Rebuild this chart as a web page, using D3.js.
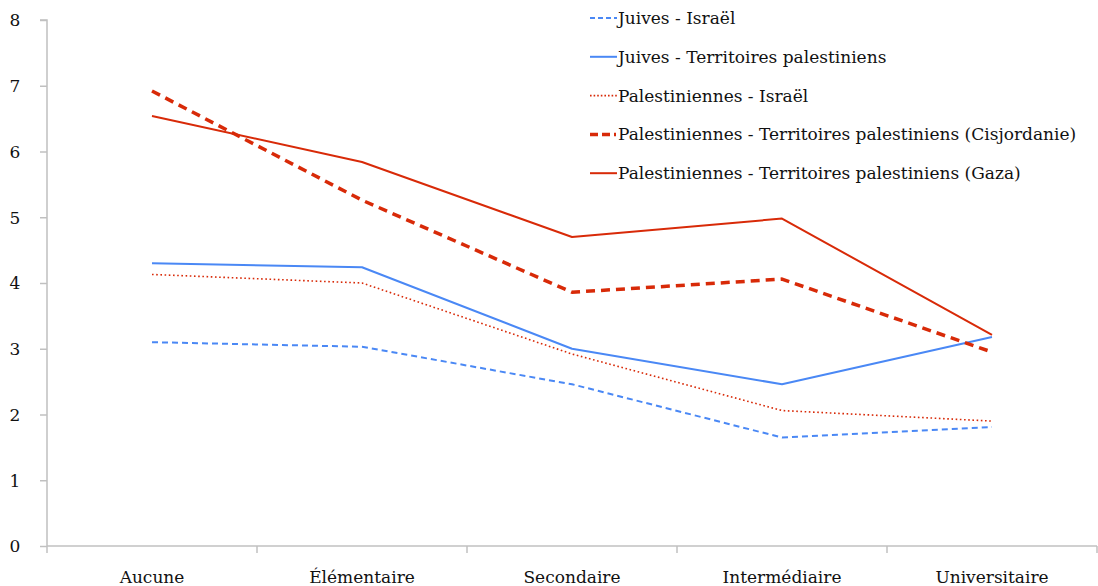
<!DOCTYPE html>
<html><head><meta charset="utf-8">
<script src="https://cdn.jsdelivr.net/npm/d3@7"></script>
<style>body{margin:0;background:#fff}svg{display:block}</style>
</head><body><svg id="c" width="1098" height="586"></svg>
<script>
const categories = ["Aucune","Élémentaire","Secondaire","Intermédiaire","Universitaire"];
const yTicks = [0,1,2,3,4,5,6,7,8];
const seriesNames = ["Juives - Israël","Juives - Territoires palestiniens","Palestiniennes - Israël","Palestiniennes - Territoires palestiniens (Cisjordanie)","Palestiniennes - Territoires palestiniens (Gaza)"];
const juivesIsrael = [3.10,3.03,2.46,1.65,1.81];
const juivesTerritoires = [4.30,4.24,3.00,2.46,3.18];
const palIsrael = [4.13,4.00,2.92,2.06,1.90];
const palCisjordanie = [6.92,5.26,3.86,4.06,2.95];
const palGaza = [6.54,5.84,4.70,4.98,3.21];

const FONT = '"DejaVu Serif", serif';
const blue = "#4a88f5", red = "#d82a08";
const styles = [
  {color:blue, width:2, dash:"6,4"},
  {color:blue, width:2, dash:null},
  {color:red, width:1.6, dash:"1.6,2.6"},
  {color:red, width:3.5, dash:"9,6"},
  {color:red, width:2, dash:null}
];
const data = [juivesIsrael,juivesTerritoires,palIsrael,palCisjordanie,palGaza];

const svg = d3.select("#c");
const mLeft = 47, mRight = 1097, mTop = 20, mBottom = 546;
const x = d3.scaleBand().domain(categories).range([mLeft,mRight]);
const y = d3.scaleLinear().domain([0,8]).range([mBottom,mTop]);

// y axis
const ya = svg.append("g").attr("transform",`translate(${mLeft},0)`).call(d3.axisLeft(y).tickValues(yTicks).tickSize(7).tickPadding(16));
ya.attr("font-family",FONT);
ya.select(".domain").attr("stroke","#c0c0c0").attr("stroke-width",1.5).attr("d",`M-7,${mTop}H0V${mBottom}`);
ya.selectAll(".tick line").attr("stroke","#c0c0c0").attr("stroke-width",1.5);
ya.selectAll(".tick text").attr("font-size",17).attr("text-anchor","middle").attr("x",-32).attr("dy","0.35em").attr("fill","#111");

// x axis
const xa = svg.append("g").attr("transform",`translate(0,${mBottom})`).call(d3.axisBottom(x).tickSize(0).tickPadding(25));
xa.attr("font-family",FONT);
xa.select(".domain").attr("stroke","#c0c0c0").attr("stroke-width",1.5).attr("d",`M${mLeft},0H${mRight}`);
xa.selectAll(".tick text").attr("font-size",17).attr("fill","#111");
const bounds = categories.map(c=>x(c)).concat([x(categories[categories.length-1])+x.bandwidth()]);
svg.append("g").selectAll("line").data(bounds).join("line")
  .attr("x1",d=>d).attr("x2",d=>d).attr("y1",mBottom).attr("y2",mBottom+7)
  .attr("stroke","#c0c0c0").attr("stroke-width",1.5);

// lines
const line = d3.line().x((d,i)=>x(categories[i])+x.bandwidth()/2).y(d=>y(d));
svg.append("g").selectAll("path").data(data).join("path")
  .attr("d",line).attr("fill","none")
  .attr("stroke",(d,i)=>styles[i].color)
  .attr("stroke-width",(d,i)=>styles[i].width)
  .attr("stroke-dasharray",(d,i)=>styles[i].dash)
  .attr("stroke-linejoin","round");

// legend
const lg = svg.append("g").attr("transform","translate(590,18)").attr("font-family",FONT);
const rows = lg.selectAll("g").data(seriesNames).join("g").attr("transform",(d,i)=>`translate(0,${i*38.8})`);
rows.append("line").attr("x1",0).attr("x2",(d,i)=>i===3?26:27).attr("y1",0).attr("y2",0)
  .attr("stroke",(d,i)=>styles[i].color)
  .attr("stroke-width",(d,i)=>styles[i].width)
  .attr("stroke-dasharray",(d,i)=>i===0?"5,3":i===3?"8,4":i===2?"1.6,2":null);
rows.append("text").attr("x",28).attr("dy","0.35em").attr("font-size",17).attr("fill","#111").text(d=>d);
</script></body></html>
